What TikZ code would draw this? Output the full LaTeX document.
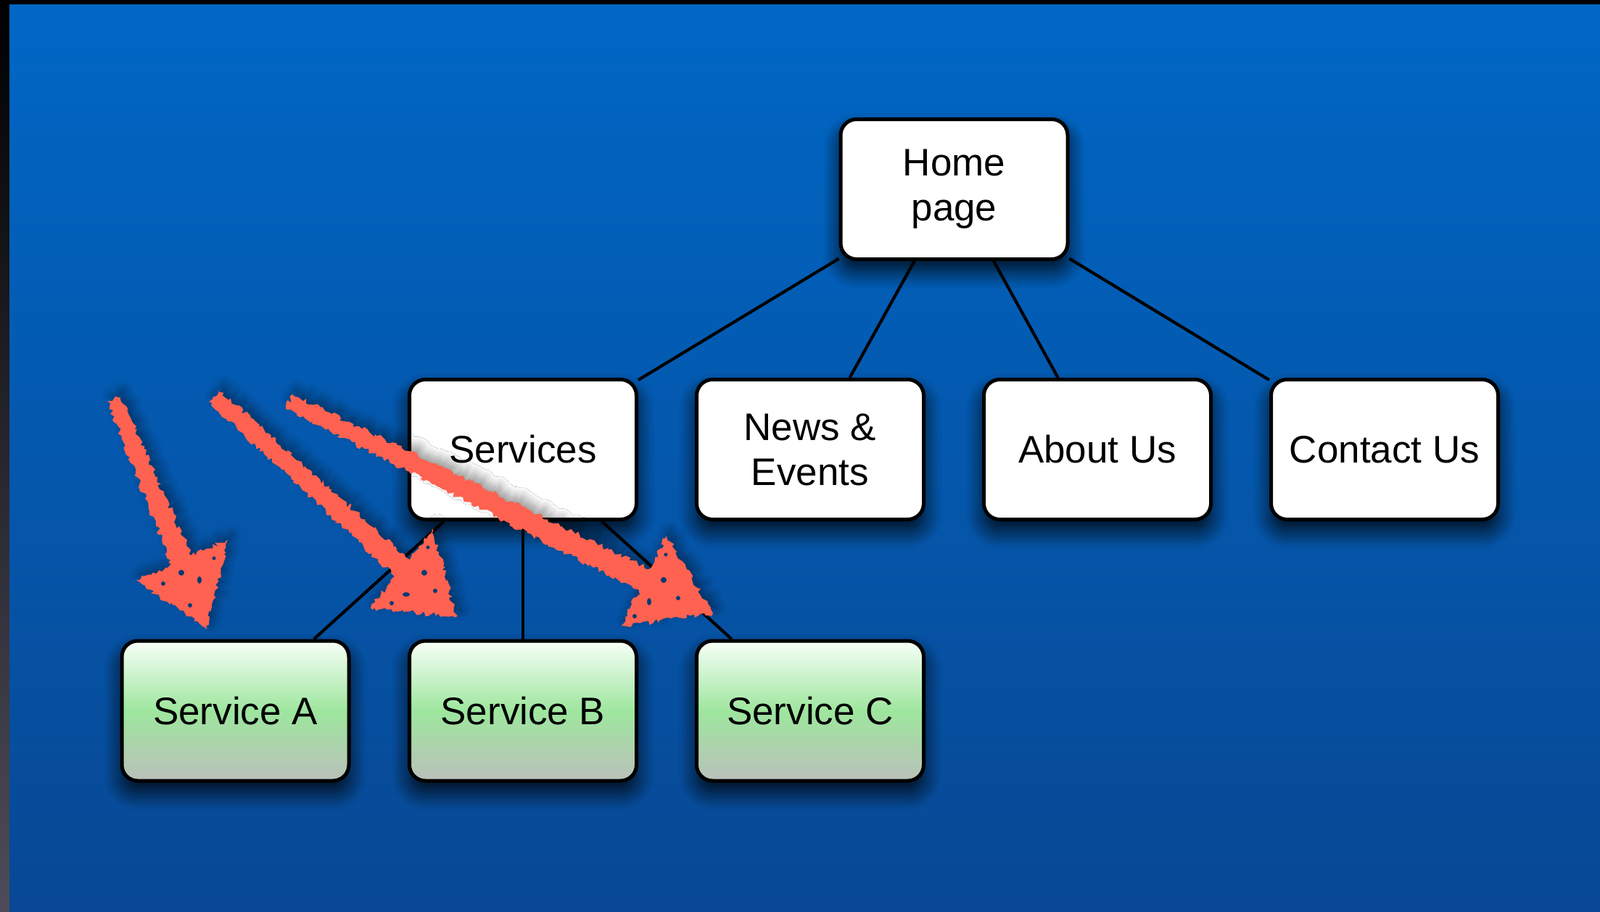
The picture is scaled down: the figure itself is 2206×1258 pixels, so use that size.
\documentclass[tikz,border=0pt]{standalone}
\usepackage{fontspec}
\setmainfont{Liberation Sans}
\usetikzlibrary{shadows.blur,decorations.pathmorphing}
\definecolor{bgtop}{RGB}{0,103,197}
\definecolor{bgbot}{RGB}{8,72,148}
\definecolor{arrowred}{RGB}{255,98,80}
\definecolor{gtop}{RGB}{248,255,248}
\definecolor{gmid}{RGB}{158,230,158}
\definecolor{gbot}{RGB}{186,192,186}
\definecolor{stripbot}{RGB}{78,76,90}
\tikzset{
  page/.style={draw=black, line width=5pt, fill=white, rounded corners=22pt,
    minimum width=313pt, minimum height=193pt, inner sep=0pt, align=center,
    font=\fontsize{53}{62}\selectfont,
    blur shadow={shadow xshift=0pt, shadow yshift=-16pt, shadow blur radius=24pt,
      shadow opacity=85, shadow blur steps=14}},
  subpage/.style={page, top color=gtop, bottom color=gbot, middle color=gmid},
  link/.style={draw=black, line width=4.2pt},
  chalk/.style={fill=arrowred, decorate,
    decoration={random steps, segment length=4pt, amplitude=3.5pt},
    blur shadow={shadow xshift=6pt, shadow yshift=8pt, shadow blur radius=12pt,
      shadow opacity=40, shadow blur steps=10}},
  speck/.style={fill=bgbot!80!black}
}
\begin{document}
\begin{tikzpicture}[x=1pt,y=-1pt]
\useasboundingbox (0,0) rectangle (2206,1258);
% background
\fill[black] (0,0) rectangle (2206,1258);
\shade[top color=black, bottom color=stripbot] (0,6) rectangle (13,1258);
\shade[top color=bgtop, bottom color=bgbot] (13,6) rectangle (2206,1258);
% nodes
\node[page] (home) at (1315.5,261) {Home\\page};
\node[page] (serv) at (721,620) {Services};
\node[page] (news) at (1117,620) {News \&\\Events};
\node[page] (about) at (1513,620) {About Us};
\node[page] (contact) at (1909,620) {Contact Us};
\node[subpage] (sa) at (324.5,980.5) {Service A};
\node[subpage] (sb) at (721,980.5) {Service B};
\node[subpage] (sc) at (1117,980.5) {Service C};
% connectors
\draw[link] (home) -- (serv);
\draw[link] (home) -- (news);
\draw[link] (home) -- (about);
\draw[link] (home) -- (contact);
\draw[link] (serv) -- (sa);
\draw[link] (serv) -- (sb);
\draw[link] (serv) -- (sc);
% chalk arrows
\fill[chalk] (166,546) -- (264,766) -- (314,745) -- (285,868) -- (187,800) -- (237,779) -- (148,554) -- cycle;
\fill[chalk] (302,538) -- (565,772) -- (597,729) -- (629,851) -- (511,839) -- (544,795) -- (288,554) -- cycle;
\fill[chalk] (403,544) -- (895,785) -- (919,739) -- (983,846) -- (856,864) -- (881,815) -- (394,563) -- cycle;
% specks
\fill[speck] (250,790) circle (4pt) (275,800) ellipse (3pt and 5pt) (225,805) circle (3pt) (295,770) circle (2.5pt) (262,835) circle (3pt);
\fill[speck] (585,790) circle (4pt) (560,820) ellipse (5pt and 3pt) (600,815) circle (3pt) (590,755) circle (2.5pt) (540,832) circle (3pt);
\fill[speck] (915,800) circle (4pt) (895,830) ellipse (3pt and 5pt) (935,825) circle (3pt) (918,765) circle (2.5pt) (875,850) circle (3pt);
\end{tikzpicture}
\end{document}
